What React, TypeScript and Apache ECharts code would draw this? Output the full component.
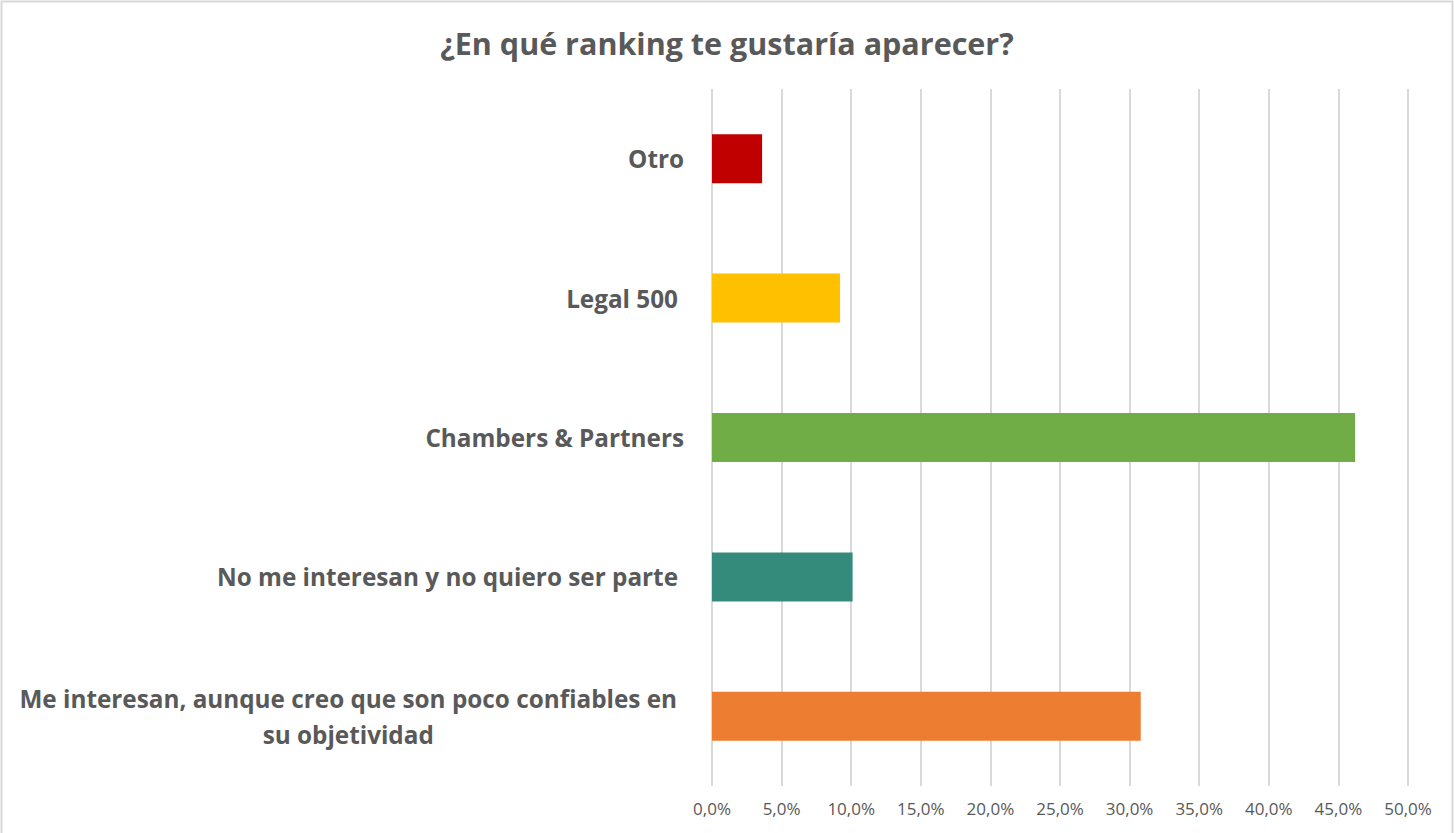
import React, { useEffect, useRef } from "react";
import * as echarts from "echarts";

const title = "¿En qué ranking te gustaría aparecer?";
const categories = [
  "Otro",
  "Legal 500",
  "Chambers & Partners",
  "No me interesan y no quiero ser parte",
  "Me interesan, aunque creo que son poco confiables en\nsu objetividad",
];
const values = [3.6, 9.2, 46.2, 10.1, 30.8];
const colors = ["#C00000", "#FFC000", "#70AD47", "#348B7C", "#ED7D31"];
const labelPadRight = [0, 6, 0, 6, 7];

const FONT = "'Open Sans', 'Noto Sans', sans-serif";

export default function App() {
  const ref = useRef<HTMLDivElement>(null);
  useEffect(() => {
    document.body.style.margin = "0";
    const chart = echarts.init(ref.current!, null, { renderer: "svg" });
    chart.setOption({
      animation: false,
      backgroundColor: "#ffffff",
      title: {
        text: title,
        left: "center",
        top: 22,
        textStyle: { fontFamily: FONT, fontSize: 30.5, fontWeight: "bold", color: "#595959" },
      },
      graphic: [
        {
          type: "rect",
          shape: { x: 1.5, y: 1.5, width: 1451, height: 840 },
          style: { fill: "none", stroke: "#d9d9d9", lineWidth: 2 },
          silent: true,
        },
      ],
      grid: { left: 712, right: 46, top: 89, bottom: 47, containLabel: false },
      xAxis: {
        type: "value",
        min: 0,
        max: 50,
        interval: 5,
        axisLine: { show: false },
        axisTick: { show: false },
        splitLine: { show: true, lineStyle: { color: "#d9d9d9", width: 2 } },
        axisLabel: {
          margin: 14,
          fontFamily: FONT,
          fontSize: 17,
          color: "#595959",
          formatter: (v: number) => v.toFixed(1).replace(".", ",") + "%",
        },
      },
      yAxis: {
        type: "category",
        inverse: true,
        data: categories.map((c, i) => ({
          value: c,
          textStyle: { padding: [0, labelPadRight[i], 0, 0] },
        })),
        axisLine: { show: false },
        axisTick: { show: false },
        splitLine: { show: false },
        axisLabel: {
          margin: 28,
          align: "right",
          fontFamily: FONT,
          fontSize: 24.3,
          fontWeight: "bold",
          color: "#595959",
          lineHeight: 36,
          formatter: (v: string) =>
            v
              .split("\n")
              .map((l) => "{c|" + l + "}")
              .join("\n"),
          rich: {
            c: {
              align: "center",
              fontFamily: FONT,
              fontSize: 24.3,
              fontWeight: "bold",
              color: "#595959",
              lineHeight: 36,
            },
          },
        },
      },
      series: [
        {
          type: "bar",
          barWidth: 49,
          data: values.map((v, i) => ({ value: v, itemStyle: { color: colors[i] } })),
        },
      ],
    });
    return () => chart.dispose();
  }, []);
  return <div ref={ref} style={{ width: 1454, height: 833 }} />;
}
